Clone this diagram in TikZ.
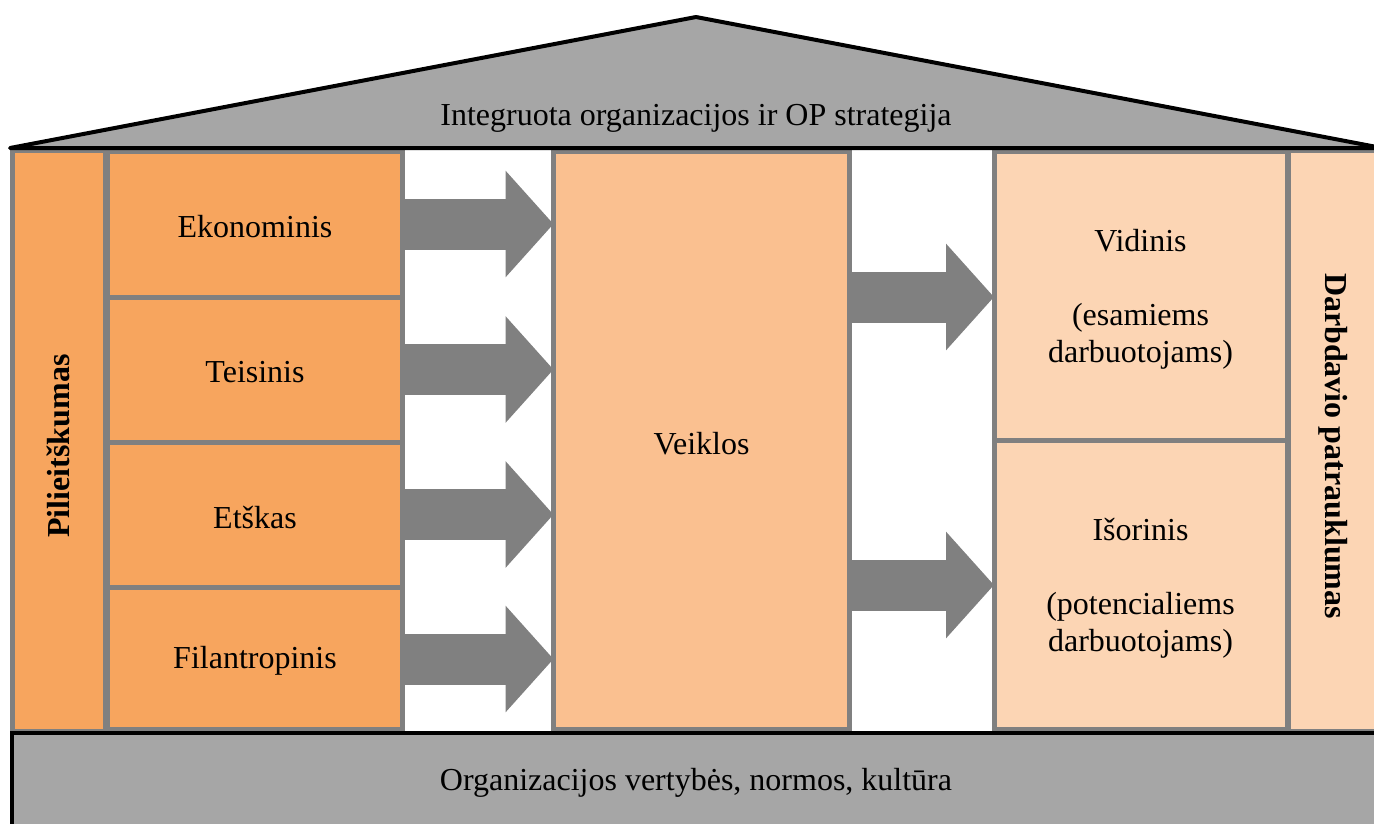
\documentclass[tikz,border=0pt]{standalone}
\usepackage{fontspec}
\setmainfont{Liberation Serif}
\usetikzlibrary{arrows.meta}
\definecolor{orDark}{HTML}{F7A55E}
\definecolor{orMid}{HTML}{FAC090}
\definecolor{orLight}{HTML}{FCD5B4}
\definecolor{roofGray}{HTML}{A6A6A6}
\definecolor{edgeGray}{HTML}{808080}
\tikzset{
  txt/.style={font=\fontsize{32}{37}\selectfont, text=black, align=center, inner sep=0pt, yshift=-3pt},
  bold/.style={txt, font=\fontsize{32}{37}\selectfont\bfseries, yshift=0pt},
  pillar/.style={draw=edgeGray, line width=5pt},
  blockarrow/.style={draw=edgeGray, line width=51pt,
    -{Triangle[length=48pt,width=104pt]}},
  heavy/.style={draw=black, line width=4pt}
}
\begin{document}
\begin{tikzpicture}[x=1pt,y=-1pt]
\useasboundingbox (0,0) rectangle (1374,823);
\begin{scope}
\clip (0,0) rectangle (1374,823);

% side pillars
\filldraw[pillar, fill=orDark] (12.5,150) rectangle (105,731);
\filldraw[pillar, fill=orLight] (1288,150) rectangle (1400,731);

% four kinds of responsibility
\filldraw[pillar, fill=orDark] (107.5,151) rectangle (402.5,297) node[midway, txt] (eko) {Ekonominis};
\filldraw[pillar, fill=orDark] (107.5,297) rectangle (402.5,442) node[midway, txt] (tei) {Teisinis};
\filldraw[pillar, fill=orDark] (107.5,442) rectangle (402.5,587) node[midway, txt] (eti) {Etškas};
\filldraw[pillar, fill=orDark] (107.5,587) rectangle (402.5,729.5) node[midway, txt] (fil) {Filantropinis};
\coordinate (ekoE) at (402.5,224);
\coordinate (teiE) at (402.5,369.5);
\coordinate (etiE) at (402.5,514.5);
\coordinate (filE) at (402.5,659);

% activities
\filldraw[pillar, fill=orMid] (553.5,151) rectangle (849.5,729.5) node[midway, txt] (veik) {Veiklos};
\coordinate (veikW) at (553.5,440);
\coordinate (veikE) at (849.5,440);

% internal / external attractiveness
\filldraw[pillar, fill=orLight] (994,151) rectangle (1287,440);
\node[txt] (vid) at (1140.5,296) {Vidinis\\[37pt](esamiems\\darbuotojams)};
\filldraw[pillar, fill=orLight] (994,440) rectangle (1287,729.5);
\node[txt] (iso) at (1140.5,585) {Išorinis\\[37pt](potencialiems\\darbuotojams)};
\coordinate (vidW) at (994,297);
\coordinate (isoW) at (994,585);

% pillar labels
\node[bold, rotate=90] (pil) at (58,443) {Pilieitškumas};
\node[bold, rotate=-90] (darb) at (1333,443) {Darbdavio patrauklumas};

% block arrows
\draw[blockarrow] (ekoE) -- (ekoE -| veikW);
\draw[blockarrow] (teiE) -- (teiE -| veikW);
\draw[blockarrow] (etiE) -- (etiE -| veikW);
\draw[blockarrow] (filE) -- (filE -| veikW);
\draw[blockarrow] (vidW -| veikE) -- (vidW);
\draw[blockarrow] (isoW -| veikE) -- (isoW);

% foundation
\filldraw[heavy, fill=roofGray] (12,733) -- (1400,733) -- (1400,840) -- (12,840) -- cycle;
\node[txt] (base) at (696,780) {Organizacijos vertybės, normos, kultūra};

% roof
\filldraw[heavy, fill=roofGray, line join=round] (10,148) -- (696,17) -- (1382,148) -- cycle;
\node[txt] (roof) at (696,115) {Integruota organizacijos ir OP strategija};
\end{scope}
\end{tikzpicture}
\end{document}
